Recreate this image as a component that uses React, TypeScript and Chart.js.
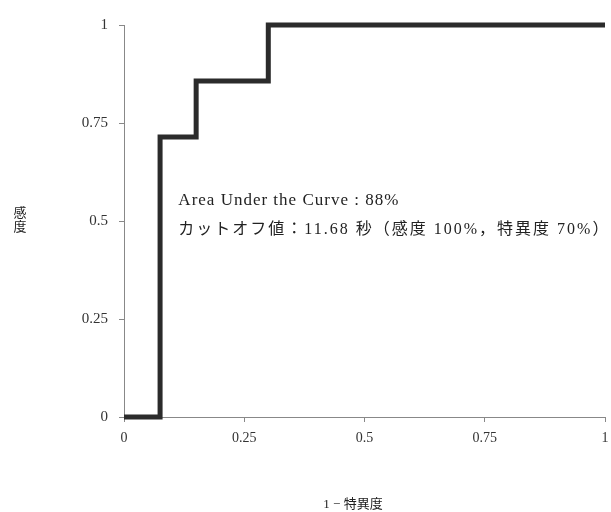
import React, { useEffect, useRef } from "react";
import { Chart, registerables } from "chart.js";

Chart.register(...registerables);

const fprValues = [0, 0.075, 0.15, 0.3, 1];
const tprValues = [0, 0.714, 0.857, 1, 1];
const xTickValues = [0, 0.25, 0.5, 0.75, 1];
const xTickLabels = ["0", "0.25", "0.5", "0.75", "1"];
const yTickValues = [0, 0.25, 0.5, 0.75, 1];
const yTickLabels = ["0", "0.25", "0.5", "0.75", "1"];
const annotationLines = [
  "Area Under the Curve : 88%",
  "カットオフ値：11.68 秒（感度 100%，特異度 70%）",
];
const yTitleChars = ["感", "度"];
const xTitle = "1 − 特異度";

const FONT = '"Liberation Serif", "Noto Sans CJK JP", serif';

export default function App() {
  const ref = useRef<HTMLCanvasElement | null>(null);
  useEffect(() => {
    if (!ref.current) return;
    const labelsPlugin = {
      id: "labels",
      afterDraw(chart: any) {
        const ctx = chart.ctx;
        ctx.save();
        ctx.fillStyle = "#222";
        ctx.textBaseline = "middle";
        ctx.textAlign = "left";
        const x0 = chart.scales.x.getPixelForValue(0.113);
        ctx.font = `17px ${FONT}`;
        (ctx as any).letterSpacing = "1px";
        ctx.fillText(annotationLines[0], x0, 201);
        ctx.font = `16px ${FONT}`;
        (ctx as any).letterSpacing = "2px";
        ctx.fillText(annotationLines[1], x0, 230);
        (ctx as any).letterSpacing = "0px";
        ctx.textAlign = "center";
        ctx.font = `13px ${FONT}`;
        yTitleChars.forEach((c, i) => ctx.fillText(c, 20, 214 + i * 14));
        ctx.fillText(xTitle, 353, 505);
        ctx.restore();
      },
    };
    const chart = new Chart(ref.current, {
      type: "line",
      data: {
        datasets: [
          {
            data: fprValues.map((x, i) => ({ x, y: tprValues[i] })),
            borderColor: "#2b2b2b",
            borderWidth: 5,
            pointRadius: 0,
            stepped: "before",
            fill: false,
            clip: false as any,
            borderCapStyle: "butt",
            borderJoinStyle: "miter",
          },
        ],
      },
      options: {
        animation: false,
        responsive: false,
        maintainAspectRatio: false,
        layout: { padding: { left: 0, top: 25, right: 0, bottom: 0 } },
        plugins: { legend: { display: false }, tooltip: { enabled: false } },
        scales: {
          x: {
            type: "linear",
            min: 0,
            max: 1,
            afterBuildTicks: (s: any) => {
              s.ticks = xTickValues.map((v) => ({ value: v }));
            },
            afterFit: (s: any) => {
              s.height = 95;
              s.paddingRight = 6;
            },
            ticks: {
              callback: (v: any) => xTickLabels[xTickValues.indexOf(Number(v))] ?? "",
              font: { family: FONT, size: 14 },
              color: "#333",
              padding: 8,
              maxRotation: 0,
              autoSkip: false,
            },
            grid: { drawOnChartArea: false, tickLength: 5, color: "#888" },
            border: { color: "#888", width: 1 },
          },
          y: {
            type: "linear",
            min: 0,
            max: 1,
            afterBuildTicks: (s: any) => {
              s.ticks = yTickValues.map((v) => ({ value: v }));
            },
            afterFit: (s: any) => {
              s.width = 124;
            },
            ticks: {
              callback: (v: any) => yTickLabels[yTickValues.indexOf(Number(v))] ?? "",
              font: { family: FONT, size: 15 },
              color: "#333",
              padding: 11,
              autoSkip: false,
            },
            grid: { drawOnChartArea: false, tickLength: 5, color: "#888" },
            border: { color: "#888", width: 1 },
          },
        },
      },
      plugins: [labelsPlugin],
    });
    return () => chart.destroy();
  }, []);
  return (
    <div style={{ position: "absolute", left: 0, top: 0, width: 611, height: 512, background: "#fff" }}>
      <canvas ref={ref} width={611} height={512} style={{ width: 611, height: 512 }} />
    </div>
  );
}
